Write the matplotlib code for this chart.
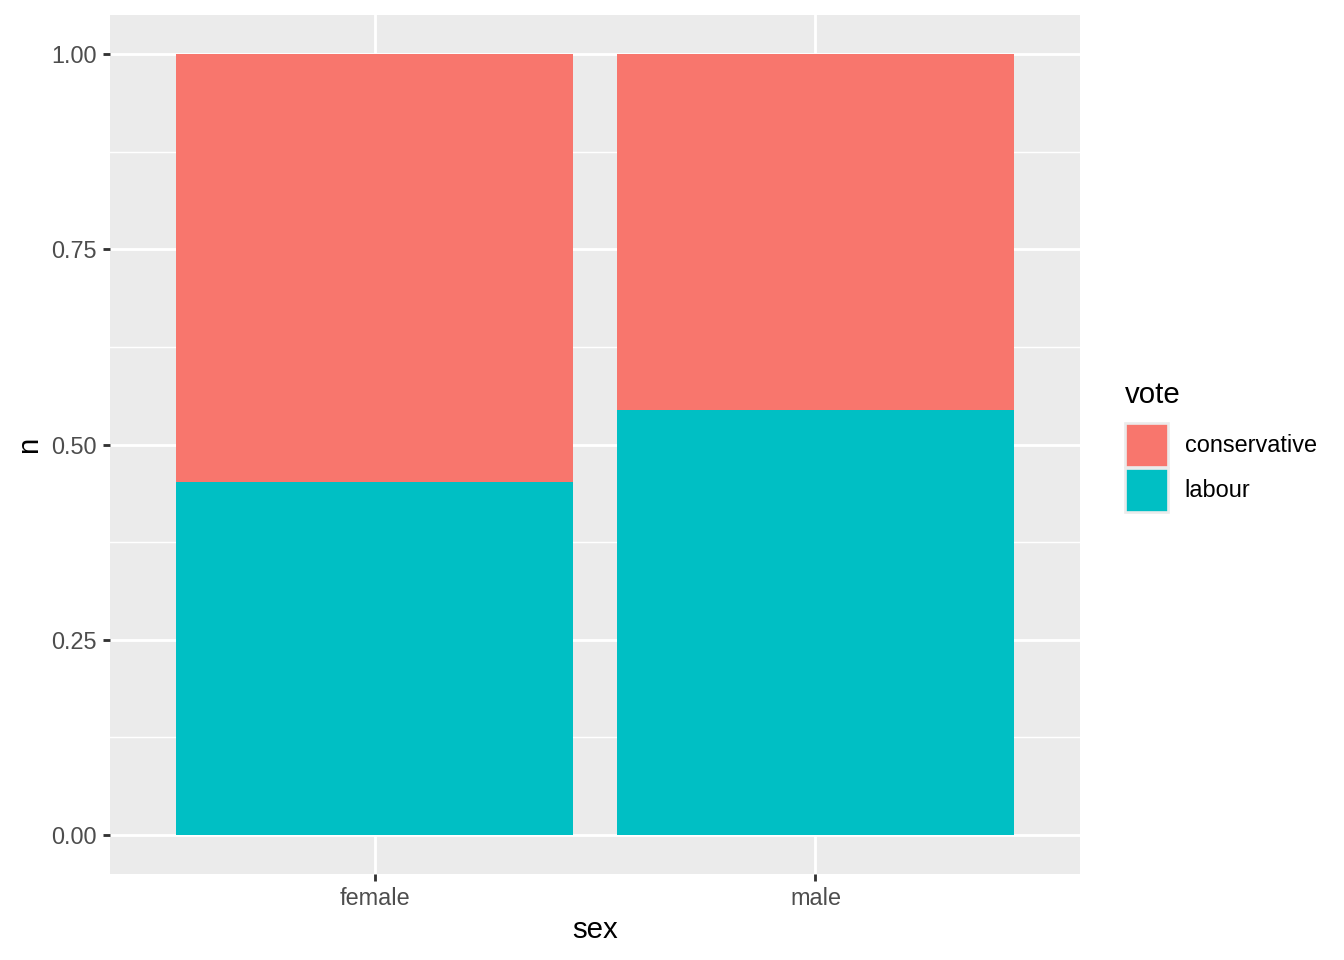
import numpy as np
import matplotlib
matplotlib.use("Agg")
import matplotlib.pyplot as plt
from matplotlib.patches import Patch

# data (proportions per sex)
sexes = ["female", "male"]
votes = ["conservative", "labour"]
labour = [0.452, 0.544]
conservative = [1 - v for v in labour]
colors = {"conservative": "#F8766D", "labour": "#00BFC4"}

plt.rcParams['font.family'] = ['Liberation Sans', 'DejaVu Sans']

fig = plt.figure(figsize=(7, 5), dpi=192)
ax = fig.add_axes([110 / 1344, 1 - 874 / 960, 970 / 1344, 859 / 960])
ax.set_facecolor("#EBEBEB")

x = np.arange(len(sexes))
ax.bar(x, labour, width=0.9, color=colors["labour"], zorder=3)
ax.bar(x, conservative, width=0.9, bottom=labour, color=colors["conservative"], zorder=3)

ax.set_xlim(-0.6, 1.6)
ax.set_ylim(-0.05, 1.05)
ax.set_xticks(x)
ax.set_xticklabels(sexes)
yt = [0, 0.25, 0.5, 0.75, 1.0]
ax.set_yticks(yt)
ax.set_yticklabels(["0.00", "0.25", "0.50", "0.75", "1.00"])
ax.set_yticks([0.125, 0.375, 0.625, 0.875], minor=True)

ax.grid(which="major", color="white", linewidth=1.07, zorder=0)
ax.grid(which="minor", axis="y", color="white", linewidth=0.53, zorder=0)
ax.set_axisbelow(True)
for s in ax.spines.values():
    s.set_visible(False)
ax.tick_params(which="major", length=2.75, width=1.07, color="#333333",
               labelcolor="#4D4D4D", labelsize=8.8, pad=2.2)
ax.tick_params(which="minor", length=0)

ax.set_xlabel("sex", fontsize=11, labelpad=2)
ax.set_ylabel("n", fontsize=11, labelpad=3)

# legend
handles = [Patch(facecolor=colors[v], edgecolor="#EBEBEB", linewidth=1.0, label=v) for v in votes]
leg = fig.legend(handles=handles, title="vote", loc="upper left",
                 bbox_to_anchor=(1116 / 1344, 1 - 372 / 960), frameon=False,
                 fontsize=8.8, title_fontsize=11, handlelength=1.8, handleheight=2.5,
                 handletextpad=0.72, labelspacing=0.05, borderaxespad=0)
leg._legend_box.align = "left"
leg._legend_box.sep = 5

fig.savefig("out.png", dpi=192)
